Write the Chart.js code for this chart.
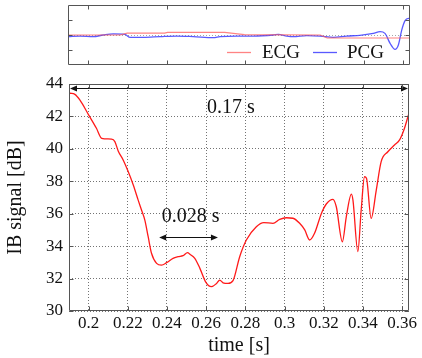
<!DOCTYPE html>
<html><head><meta charset="utf-8">
<script src="https://cdn.jsdelivr.net/npm/chart.js@4"></script>
<style>
html,body{margin:0;padding:0;background:#fff;width:422px;height:358px;overflow:hidden}
canvas{position:absolute;left:0;top:0}
</style></head>
<body>
<canvas id="main" width="422" height="358" style="width:422px;height:358px"></canvas>
<canvas id="top" width="422" height="70" style="width:422px;height:70px"></canvas>
<script>
// ---- data ----
const timeS = [0.1905,0.193,0.1956,0.2,0.204,0.2067,0.2117,0.2134,0.2151,0.2177,0.2202,0.2228,0.2253,0.227,0.2287,0.2304,0.2321,0.2347,0.2372,0.2398,0.2431,0.2457,0.2482,0.2505,0.2517,0.2542,0.2568,0.2597,0.2627,0.2653,0.2669,0.2686,0.2712,0.2737,0.2771,0.2805,0.2856,0.2894,0.2941,0.2975,0.3009,0.3043,0.3077,0.3103,0.3128,0.3153,0.3188,0.3213,0.3247,0.3264,0.3295,0.3315,0.3341,0.3349,0.3374,0.3391,0.3408,0.3418,0.3442,0.3468,0.3493,0.3527,0.3561,0.3587,0.3612,0.3632];
const ibSignal = [43.43,43.36,43.0,42.1,41.27,40.65,40.6,40.45,39.87,39.3,38.6,37.77,36.84,36.23,35.61,34.58,33.56,32.94,32.83,32.98,33.25,33.35,33.41,33.6,33.5,33.25,32.63,31.8,31.5,31.7,31.91,31.74,31.7,31.87,33.35,34.38,35.2,35.45,35.41,35.65,35.75,35.72,35.41,35.0,34.38,34.79,36.02,36.6,36.89,36.43,34.27,35.81,37.21,36.84,33.66,36.23,38.28,38.18,35.71,37.46,39.21,39.82,40.24,40.55,41.27,42.09];

const ecgTime = [0.19,0.2165,0.22,0.239,0.2405,0.2695,0.276,0.2795,0.318,0.3215,0.3635];
const ecgValue = [0.0,0.0,0.12,0.12,0.17,0.17,0.08,0.02,0.0,-0.2,-0.2];

const pcgTime = [0.1902,0.1961,0.2028,0.2079,0.2130,0.2189,0.2215,0.2282,0.2367,0.2452,0.2536,0.2637,0.2671,0.2756,0.2840,0.2942,0.2967,0.3010,0.3043,0.3111,0.3179,0.3246,0.3314,0.3381,0.3449,0.3483,0.3508,0.3534,0.3559,0.3576,0.3593,0.3610,0.3627,0.3639];
const pcgValue = [-0.11,-0.07,-0.11,0.0,0.07,0.04,-0.16,-0.16,-0.11,-0.07,-0.11,-0.18,-0.11,-0.07,-0.07,0.0,0.04,-0.07,-0.11,-0.04,-0.07,-0.16,-0.07,-0.02,0.11,0.22,0.11,-0.56,-0.96,-0.67,0.33,0.96,1.11,1.04];

const xTicks = [0.2,0.22,0.24,0.26,0.28,0.3,0.32,0.34,0.36];
const xTickLabels = ['0.2','0.22','0.24','0.26','0.28','0.3','0.32','0.34','0.36'];
const yTicks = [30,32,34,36,38,40,42,44];
const topYTicks = [-1,0,1];

// annotations (double arrows)
const spanStart = [0.19, 0.2355];
const spanEnd = [0.3635, 0.2665];
const spanLevel = [43.75, 34.58];
const spanLabels = ['0.17 s', '0.028 s'];

const X_MIN = 0.19, X_MAX = 0.3635;
const SERIF = '"Liberation Serif", "DejaVu Serif", serif';

function pts(xs, ys){ return xs.map((x,i)=>({x:x,y:ys[i]})); }

const framePlugin = {
  id:'frame',
  afterDraw(chart){
    const {ctx, chartArea:a, scales} = chart;
    ctx.save();
    ctx.strokeStyle = '#555'; ctx.lineWidth = 1;
    const L = Math.round(a.left)+0.5, R = Math.round(a.right)-0.5, T = Math.round(a.top)+0.5, B = Math.round(a.bottom)-0.5;
    ctx.beginPath();
    ctx.rect(L, T, R-L, B-T);
    ctx.stroke();
    const tl = 4;
    ctx.beginPath();
    scales.x.ticks.forEach(t=>{ const p = Math.round(scales.x.getPixelForValue(t.value))+0.5; ctx.moveTo(p,B); ctx.lineTo(p,B-tl); ctx.moveTo(p,T); ctx.lineTo(p,T+tl); });
    scales.y.ticks.forEach(t=>{ const p = Math.round(scales.y.getPixelForValue(t.value))+0.5; ctx.moveTo(L,p); ctx.lineTo(L+tl,p); ctx.moveTo(R,p); ctx.lineTo(R-tl,p); });
    ctx.stroke();
    ctx.restore();
  }
};

function arrowHead(ctx, x, y, dir){
  ctx.beginPath();
  ctx.moveTo(x, y);
  ctx.lineTo(x - dir*7, y - 3);
  ctx.lineTo(x - dir*7, y + 3);
  ctx.closePath();
  ctx.fill();
}

const spanPlugin = {
  id:'spans',
  afterDatasetsDraw(chart){
    const {ctx, scales} = chart;
    ctx.save();
    ctx.strokeStyle = '#111'; ctx.fillStyle = '#111'; ctx.lineWidth = 1;
    ctx.font = '20px ' + SERIF;
    ctx.textAlign = 'center';
    ctx.textBaseline = 'middle';
    spanStart.forEach((s,i)=>{
      const x0 = scales.x.getPixelForValue(s) + 1, x1 = scales.x.getPixelForValue(spanEnd[i]) - 1;
      const y = Math.round(scales.y.getPixelForValue(spanLevel[i])) + 0.5;
      ctx.beginPath(); ctx.moveTo(x0+4, y); ctx.lineTo(x1-4, y); ctx.stroke();
      arrowHead(ctx, x0, y, -1); arrowHead(ctx, x1, y, 1);
      const mx = (x0 + x1) / 2;
      if (i === 0) ctx.fillText(spanLabels[i], mx - 8, y + 19);
      else ctx.fillText(spanLabels[i], mx + 2, y - 21);
    });
    ctx.restore();
  }
};

new Chart(document.getElementById('main'), {
  type:'line',
  data:{ datasets:[{ label:'IB signal', data:pts(timeS, ibSignal), borderColor:'#ff1a1a', borderWidth:1.3, pointRadius:0, cubicInterpolationMode:'monotone', fill:false }]},
  options:{
    responsive:false, animation:false, devicePixelRatio:1,
    layout:{ padding:{ top:84, right:13, left:0, bottom:0 } },
    plugins:{ legend:{display:false}, tooltip:{enabled:false} },
    scales:{
      x:{ type:'linear', min:X_MIN, max:X_MAX,
        afterBuildTicks:(s)=>{ s.ticks = xTicks.map(v=>({value:v})); },
        afterFit:(s)=>{ s.height = 47; },
        ticks:{ callback:(v,i)=>xTickLabels[i], color:'#111', font:{family:SERIF, size:17}, padding:2, maxRotation:0, autoSkip:false },
        grid:{ color:'rgba(0,0,0,0.55)', drawTicks:false, lineWidth:1 },
        border:{ display:false, dash:[1,2] },
        title:{ display:true, text:'time [s]', color:'#111', font:{family:SERIF, size:20}, padding:{top:3,bottom:0} }
      },
      y:{ type:'linear', min:30, max:44,
        afterBuildTicks:(s)=>{ s.ticks = yTicks.map(v=>({value:v})); },
        afterFit:(s)=>{ s.width = 69; },
        ticks:{ color:'#111', font:{family:SERIF, size:17}, padding:6 },
        grid:{ color:'rgba(0,0,0,0.55)', drawTicks:false, lineWidth:1 },
        border:{ display:false, dash:[1,2] },
        title:{ display:true, text:'IB signal [dB]', color:'#111', font:{family:SERIF, size:20}, padding:{top:4,bottom:0} }
      }
    }
  },
  plugins:[spanPlugin, framePlugin]
});

const topPlugin = {
  id:'topDeco',
  beforeDatasetsDraw(chart){
    const {ctx, chartArea:a, scales} = chart;
    ctx.save();
    ctx.strokeStyle = 'rgba(0,0,0,0.35)'; ctx.setLineDash([1,2]); ctx.lineWidth = 1;
    const y = Math.round(scales.y.getPixelForValue(0)) + 0.5;
    ctx.beginPath(); ctx.moveTo(a.left, y); ctx.lineTo(a.right, y); ctx.stroke();
    ctx.restore();
  },
  afterDraw(chart){
    const {ctx, data} = chart;
    ctx.save();
    ctx.font = '19px ' + SERIF; ctx.textBaseline = 'middle'; ctx.textAlign = 'left';
    const items = [[227, 251, 262], [313, 337, 347]];
    data.datasets.forEach((ds,i)=>{
      const [l0,l1,tx] = items[i];
      const y = 52.5;
      ctx.strokeStyle = ds.borderColor; ctx.lineWidth = 1.3;
      ctx.beginPath(); ctx.moveTo(l0, y); ctx.lineTo(l1, y); ctx.stroke();
      ctx.fillStyle = '#111';
      ctx.fillText(ds.label, tx, y + 1);
    });
    ctx.restore();
  }
};

new Chart(document.getElementById('top'), {
  type:'line',
  data:{ datasets:[
    { label:'ECG', data:pts(ecgTime, ecgValue), borderColor:'rgba(255,90,90,0.75)', borderWidth:1.2, pointRadius:0, fill:false, tension:0 },
    { label:'PCG', data:pts(pcgTime, pcgValue), borderColor:'rgba(60,60,255,0.85)', borderWidth:1.3, pointRadius:0, fill:false, cubicInterpolationMode:'monotone' }
  ]},
  options:{
    responsive:false, animation:false, devicePixelRatio:1,
    layout:{ padding:{ top:5, right:12, bottom:5, left:68 } },
    plugins:{ legend:{display:false}, tooltip:{enabled:false} },
    scales:{
      x:{ type:'linear', display:false, min:X_MIN, max:X_MAX, afterBuildTicks:(s)=>{ s.ticks = xTicks.map(v=>({value:v})); } },
      y:{ type:'linear', display:false, min:-2, max:2, afterBuildTicks:(s)=>{ s.ticks = topYTicks.map(v=>({value:v})); } }
    }
  },
  plugins:[topPlugin, framePlugin]
});
</script>
</body></html>
